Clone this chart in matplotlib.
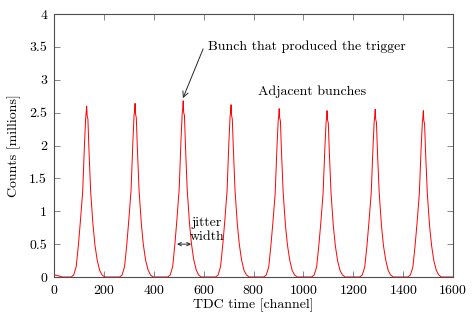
"""
TDC time spectrum: bunch structure seen by the trigger
"""
import numpy as np
import matplotlib.pyplot as plt

plt.rcParams['font.family'] = 'serif'
plt.rcParams['font.serif'] = ['cmr10', 'DejaVu Serif']
plt.rcParams['mathtext.fontset'] = 'cm'
plt.rcParams['axes.formatter.use_mathtext'] = True
plt.rcParams['font.size'] = 10

# channel offsets around each bunch centre
offsets = [-62, -52, -42, -33, -25, -16, -9, -4, -2, 0, 2, 5, 9, 16, 25, 33, 42, 52, 62, 72]
centers = [131, 325, 518, 710, 903, 1095, 1288, 1481]

# counts in millions per bunch, same sampling as offsets
bunch_counts = [
    [0, 0.03, 0.16, 0.49, 0.86, 1.30, 2.00, 2.42, 2.50, 2.60, 2.45, 2.40, 1.95, 1.30, 0.81, 0.49, 0.26, 0.10, 0.03, 0],
    [0, 0.03, 0.16, 0.50, 0.87, 1.32, 2.03, 2.46, 2.52, 2.64, 2.48, 2.42, 1.98, 1.32, 0.82, 0.50, 0.26, 0.11, 0.03, 0],
    [0, 0.03, 0.16, 0.51, 0.88, 1.34, 2.06, 2.49, 2.55, 2.68, 2.50, 2.46, 2.01, 1.34, 0.83, 0.51, 0.27, 0.11, 0.03, 0],
    [0, 0.03, 0.16, 0.50, 0.86, 1.31, 2.02, 2.44, 2.50, 2.62, 2.46, 2.40, 1.97, 1.31, 0.81, 0.50, 0.26, 0.10, 0.03, 0],
    [0, 0.03, 0.15, 0.49, 0.84, 1.28, 1.97, 2.38, 2.45, 2.56, 2.42, 2.37, 1.92, 1.28, 0.79, 0.49, 0.26, 0.10, 0.03, 0],
    [0, 0.03, 0.15, 0.48, 0.83, 1.27, 1.95, 2.35, 2.42, 2.53, 2.39, 2.34, 1.90, 1.27, 0.78, 0.48, 0.25, 0.10, 0.03, 0],
    [0, 0.03, 0.15, 0.48, 0.84, 1.28, 1.96, 2.37, 2.44, 2.55, 2.40, 2.35, 1.91, 1.28, 0.79, 0.48, 0.26, 0.10, 0.03, 0],
    [0, 0.03, 0.15, 0.48, 0.83, 1.27, 1.95, 2.35, 2.42, 2.53, 2.38, 2.33, 1.90, 1.27, 0.78, 0.48, 0.25, 0.10, 0.03, 0],
]

# small pedestal at the very start of the range
start_channels = [0, 5, 15, 25, 32]
start_counts = [0.02, 0.03, 0.02, 0.01, 0]
end_channel = 1600

# assemble the whole spectrum
x = list(start_channels)
y = list(start_counts)
for c, counts in zip(centers, bunch_counts):
    x += [c + o for o in offsets]
    y += counts
x.append(end_channel)
y.append(0)

fig = plt.figure(figsize=(4.75, 3.19), dpi=100)
ax = fig.add_axes([0.1137, 0.1317, 0.84, 0.8243])

ax.plot(x, y, color='red', lw=0.7)

ax.set_xlim(0, 1600)
ax.set_ylim(0, 4)
ax.set_xticks(np.arange(0, 1601, 200))
ax.set_yticks(np.arange(0, 4.01, 0.5))
ax.set_yticklabels(['0', '0.5', '1', '1.5', '2', '2.5', '3', '3.5', '4'])
ax.tick_params(direction='in', top=True, right=True, length=4, width=0.6,
               color='0.45', labelsize=10, pad=5)
for s in ax.spines.values():
    s.set_color('0.3')
    s.set_linewidth(0.8)

ax.set_xlabel('TDC time [channel]', labelpad=1)
ax.set_ylabel('Counts [millions]', labelpad=6)

# annotations
ax.text(617, 3.5, 'Bunch that produced the trigger', ha='left', va='center')
ax.annotate('', xy=(517, 2.72), xytext=(598, 3.47),
            arrowprops=dict(arrowstyle='->', color='0.15', lw=0.7, shrinkA=0, shrinkB=0))
ax.text(1035, 2.82, 'Adjacent bunches', ha='center', va='center')
ax.annotate('', xy=(493, 0.5), xytext=(550, 0.5),
            arrowprops=dict(arrowstyle='<->', color='0.15', lw=0.7, shrinkA=0, shrinkB=0,
                            mutation_scale=6))
ax.text(612, 0.72, 'jitter\nwidth', ha='center', va='center', linespacing=1.2)

fig.savefig('out.png', dpi=100)
